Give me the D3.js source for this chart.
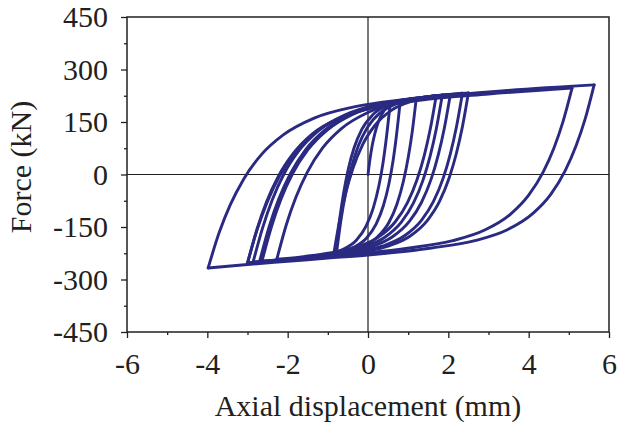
<!DOCTYPE html>
<html>
<head>
<meta charset="utf-8">
<script src="https://cdn.jsdelivr.net/npm/d3@7"></script>
<style>
  html, body { margin: 0; padding: 0; background: #fff; }
  svg { display: block; }
</style>
</head>
<body>
<svg id="chart" width="617" height="426"></svg>
<script>
// Axis ticks
const xTicks = [-6, -4, -2, 0, 2, 4, 6];
const xMinorTicks = [-5, -3, -1, 1, 3, 5];
const yTicks = [-450, -300, -150, 0, 150, 300, 450];
const yMinorTicks = [-375, -225, -75, 75, 225, 375];

// Hysteresis record: [axial displacement (mm), force (kN)]
// Each cycle is split into its unloading (down) and reloading (up) branch.
const initialUp = [[0, 0], [0.05, 44], [0.10, 80], [0.17, 117], [0.25, 148], [0.35, 173], [0.45, 190], [0.55, 200]];

const c1Down = [[0.55, 200], [0.46, 107], [0.375, 34], [0.27, -33], [0.13, -96], [-0.045, -147], [-0.29, -188], [-0.605, -213], [-0.78, -221]];
const c1Up = [[-0.78, -221], [-0.6675, -126], [-0.555, -52], [-0.42, 17], [-0.24, 82], [-0.015, 134], [0.30, 176], [0.57, 195], [0.80, 206]];

const c2Down = [[0.80, 206], [0.71, 113], [0.625, 40], [0.52, -27], [0.38, -90], [0.205, -141], [-0.04, -182], [-0.355, -208], [-0.80, -223]];
const c2Up = [[-0.80, -223], [-0.705, -128], [-0.61, -55], [-0.496, 13], [-0.344, 77], [-0.154, 129], [0.112, 170], [0.454, 196], [0.91, 211], [1.20, 216]];

const c3Down = [[1.20, 216], [1.10, 121], [1.0, 48], [0.88, -20], [0.72, -85], [0.52, -137], [0.24, -178], [-0.12, -205], [-0.6, -220], [-0.85, -225]];
const c3Up = [[-0.85, -225], [-0.70, -127], [-0.55, -51], [-0.37, 19], [-0.13, 86], [0.17, 140], [0.59, 184], [1.13, 211], [1.70, 226]];

const c4Down = [[1.70, 226], [1.55, 130], [1.40, 54], [1.22, -15], [0.98, -81], [0.68, -135], [0.26, -179], [-0.28, -207], [-1.0, -225], [-1.7, -236], [-2.27, -242]];
const c4Up = [[-2.27, -242], [-2.03, -142], [-1.795, -65], [-1.51, 7], [-1.13, 76], [-0.655, 132], [0.01, 178], [0.865, 209], [1.85, 227]];

const c5Down = [[1.85, 227], [1.70, 130], [1.55, 54], [1.37, -16], [1.13, -82], [0.83, -136], [0.41, -180], [-0.13, -208], [-0.85, -226], [-1.8, -240], [-2.64, -248]];
const c5Up = [[-2.64, -248], [-2.40, -148], [-2.165, -70], [-1.88, 2], [-1.5, 70], [-1.025, 126], [-0.36, 173], [0.495, 203], [1.35, 220], [2.05, 229]];

const c6Down = [[2.05, 229], [1.90, 132], [1.75, 56], [1.57, -14], [1.33, -80], [1.03, -134], [0.61, -178], [0.07, -207], [-0.65, -225], [-1.7, -239], [-2.70, -249]];
const c6Up = [[-2.70, -249], [-2.46, -149], [-2.225, -71], [-1.94, 1], [-1.56, 70], [-1.085, 126], [-0.42, 172], [0.435, 203], [1.29, 219], [2.35, 232]];

const c7Down = [[2.35, 232], [2.20, 135], [2.05, 59], [1.87, -11], [1.63, -77], [1.33, -131], [0.91, -175], [0.37, -204], [-0.35, -222], [-1.6, -238], [-2.86, -250]];
const c7Up = [[-2.86, -250], [-2.62, -151], [-2.385, -73], [-2.10, 0], [-1.72, 68], [-1.245, 124], [-0.58, 170], [0.275, 201], [1.13, 217], [2.50, 233]];

const c8Down = [[2.50, 233], [2.35, 136], [2.20, 60], [2.02, -10], [1.78, -77], [1.48, -131], [1.06, -175], [0.52, -204], [-0.2, -222], [-1.6, -240], [-3.0, -253]];
const c8Up = [[-3.0, -253], [-2.76, -155], [-2.525, -78], [-2.24, -7], [-1.86, 60], [-1.385, 116], [-0.72, 161], [0.135, 191], [1.275, 212], [3.0, 230], [5.08, 247]];

const c9Down = [[5.08, 247], [4.855, 151], [4.63, 76], [4.36, 7], [4.0, -59], [3.55, -113], [2.92, -158], [2.11, -189], [1.03, -210], [0.0, -224], [-1.0, -234], [-2.0, -243], [-3.0, -253]];
const c9Up = [[-3.0, -253], [-2.75, -154], [-2.5, -76], [-2.2, -4], [-1.8, 65], [-1.3, 121], [-0.6, 167], [0.3, 198], [1.5, 219], [3.0, 236], [5.63, 256]];

const c10Down = [[5.63, 256], [5.405, 158], [5.18, 82], [4.91, 11], [4.55, -57], [4.10, -112], [3.47, -158], [2.66, -189], [1.58, -210], [0.0, -230], [-1.0, -239], [-2.0, -248], [-3.0, -257], [-3.98, -267]];
const c10Up = [[-3.98, -267], [-3.705, -166], [-3.43, -87], [-3.10, -14], [-2.66, 56], [-2.11, 113], [-1.34, 161], [-0.35, 193], [0.97, 215], [2.0, 228]];

const branches = [
  initialUp,
  c1Down, c1Up, c2Down, c2Up, c3Down, c3Up,
  c4Down, c4Up, c5Down, c5Up, c6Down, c6Up,
  c7Down, c7Up, c8Down, c8Up, c9Down, c9Up,
  c10Down, c10Up
];

const svg = d3.select("#chart");
const W = 617, H = 426;
const plot = { left: 127, right: 609, top: 17, bottom: 332 };
const FONT = "'Liberation Serif', 'Times New Roman', Times, serif";
const INK = "#231f20";
const LOOP = "#2a2a82";

svg.append("rect").attr("width", W).attr("height", H).attr("fill", "#fff");

const x = d3.scaleLinear().domain([-6, 6]).range([plot.left, plot.right]);
const y = d3.scaleLinear().domain([-450, 450]).range([plot.bottom, plot.top]);

// Clip region for the record
svg.append("defs").append("clipPath").attr("id", "plotClip")
  .append("rect")
  .attr("x", plot.left).attr("y", plot.top)
  .attr("width", plot.right - plot.left).attr("height", plot.bottom - plot.top);

// Zero reference lines
svg.append("line")
  .attr("x1", x(-6)).attr("x2", x(6)).attr("y1", y(0)).attr("y2", y(0))
  .attr("stroke", INK).attr("stroke-width", 1.2);
svg.append("line")
  .attr("x1", x(0)).attr("x2", x(0)).attr("y1", y(-450)).attr("y2", y(450))
  .attr("stroke", INK).attr("stroke-width", 1.2);

// Hysteresis branches
const line = d3.line()
  .x(d => x(d[0]))
  .y(d => y(d[1]))
  .curve(d3.curveMonotoneX);

svg.append("g").attr("clip-path", "url(#plotClip)")
  .selectAll("path")
  .data(branches.map(b => d3.sort(b, p => p[0])))
  .join("path")
  .attr("d", line)
  .attr("fill", "none")
  .attr("stroke", LOOP)
  .attr("stroke-width", 2.9)
  .attr("stroke-linejoin", "round")
  .attr("stroke-linecap", "round");

// Axes
function styleAxis(g) {
  g.select(".domain").remove();
  g.selectAll(".tick line").attr("stroke", INK).attr("stroke-width", 1.3);
  g.selectAll(".tick text").attr("fill", INK).attr("font-family", FONT).attr("font-size", 30);
}

svg.append("g")
  .attr("transform", `translate(0,${plot.bottom})`)
  .call(d3.axisBottom(x).tickValues(xMinorTicks).tickSize(3).tickFormat(""))
  .call(styleAxis);
svg.append("g")
  .attr("transform", `translate(0,${plot.bottom})`)
  .call(d3.axisBottom(x).tickValues(xTicks).tickSize(6).tickPadding(15).tickFormat(d => String(d)))
  .call(styleAxis);

svg.append("g")
  .attr("transform", `translate(${plot.left},0)`)
  .call(d3.axisLeft(y).tickValues(yMinorTicks).tickSize(3).tickFormat(""))
  .call(styleAxis);
svg.append("g")
  .attr("transform", `translate(${plot.left},0)`)
  .call(d3.axisLeft(y).tickValues(yTicks).tickSize(6).tickPadding(13).tickFormat(d => String(d)))
  .call(styleAxis);

// Frame
svg.append("rect")
  .attr("x", plot.left).attr("y", plot.top)
  .attr("width", plot.right - plot.left).attr("height", plot.bottom - plot.top)
  .attr("fill", "none").attr("stroke", INK).attr("stroke-width", 1.5);

// Axis titles
svg.append("text")
  .attr("x", (plot.left + plot.right) / 2).attr("y", 416)
  .attr("text-anchor", "middle")
  .attr("font-family", FONT).attr("font-size", 30).attr("fill", INK)
  .text("Axial displacement (mm)");

svg.append("text")
  .attr("transform", "translate(31,167) rotate(-90)")
  .attr("text-anchor", "middle")
  .attr("font-family", FONT).attr("font-size", 30).attr("fill", INK)
  .text("Force (kN)");
</script>
</body>
</html>
